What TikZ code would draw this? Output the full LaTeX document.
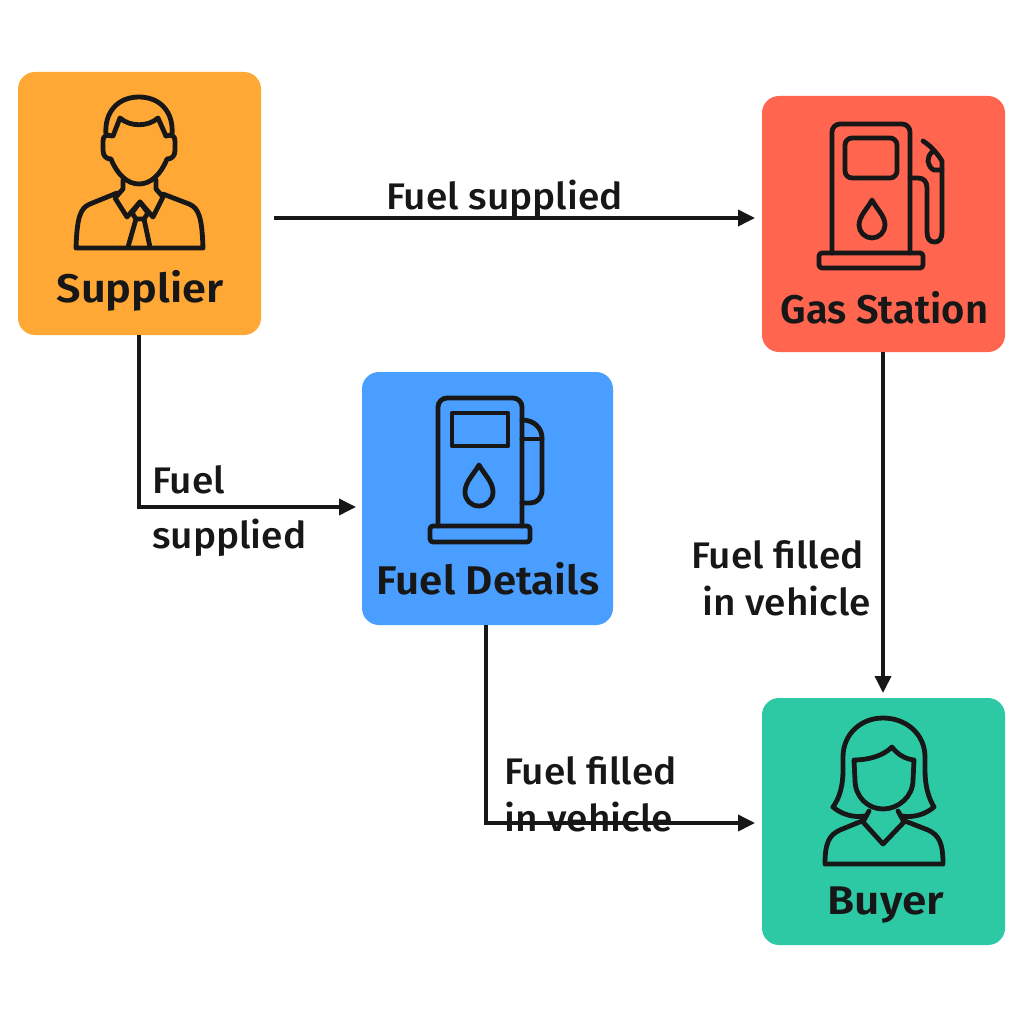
\documentclass[tikz,border=0pt]{standalone}
\usepackage{fontspec}
\usetikzlibrary{arrows.meta}
\newfontfamily\boxfont[UprightFont=* SemiBold,FakeStretch=1.05]{Fira Sans}
\newfontfamily\edgefont[UprightFont=* Medium,FakeStretch=1.05]{Fira Sans}
\definecolor{ink}{HTML}{171717}
\definecolor{cOrange}{HTML}{FFA835}
\definecolor{cRed}{HTML}{FF654F}
\definecolor{cBlue}{HTML}{4A9EFF}
\definecolor{cGreen}{HTML}{2DC9A4}
\tikzset{
  card/.style={rounded corners=17pt,inner sep=0pt,outer sep=0pt},
  icon/.style={draw=ink,line width=4.8pt,line join=round,line cap=round},
  flow/.style={draw=ink,line width=3.6pt,-{Triangle[length=17pt,width=16pt]}},
  cardlabel/.style={text=ink,inner sep=0pt,font=\boxfont\fontsize{40}{42}\selectfont},
  flowlabel/.style={text=ink,inner sep=0pt,anchor=west,font=\edgefont\fontsize{37}{40}\selectfont},
}
\begin{document}
\begin{tikzpicture}[x=1pt,y=-1pt]
\useasboundingbox (0,0) rectangle (1024,1024);
\fill[white] (0,0) rectangle (1024,1024);
% cards
\node[card,fill=cOrange,minimum width=243pt,minimum height=263pt] (sup) at (139.5,203.5) {};
\node[card,fill=cRed,minimum width=243pt,minimum height=256pt] (gas) at (883.5,224) {};
\node[card,fill=cBlue,minimum width=251pt,minimum height=253pt] (det) at (487.5,498.5) {};
\node[card,fill=cGreen,minimum width=243pt,minimum height=247pt] (buy) at (883.5,821.5) {};
% free ends
\coordinate (supOut) at (274,218);
\coordinate (gasIn) at (755,218);
\coordinate (detIn) at (356,507);
\coordinate (buyIn) at (755,823);
\coordinate (supCorner) at (139,507);
\coordinate (detCorner) at (486,823);
\coordinate (supBot) at (139,335);
\coordinate (detBot) at (486,625);
\coordinate (gasBot) at (883,352);
\coordinate (buyTop) at (883,693);
% connectors
\draw[flow] (supOut) -- (gasIn);
\draw[flow] (supBot) -- (supCorner) -- (detIn);
\draw[flow] (gasBot) -- (buyTop);
\draw[flow] (detBot) -- (detCorner) -- (buyIn);
% card labels
\node[cardlabel] (supL) at (140,291) {\scalebox{1.03}[1]{Supplier}};
\node[cardlabel] (gasL) at (884.5,308) {\scalebox{.95}[1]{Gas Station}};
\node[cardlabel] (detL) at (488,579) {Fuel Details};
\node[cardlabel] (buyL) at (886,905) {\scalebox{1.05}[1]{Buyer}};
% flow labels
\node[flowlabel] (l1) at (386,199) {Fuel supplied};
\node[flowlabel] (l2a) at (152,480) {Fuel};
\node[flowlabel] (l2b) at (152,538) {supplied};
\node[flowlabel] (l3a) at (691,555) {Fuel filled};
\node[flowlabel] (l3b) at (702,601) {in vehicle};
\node[flowlabel] (l4a) at (504,771) {Fuel filled};
\node[flowlabel] (l4b) at (504,817) {in vehicle};
% supplier icon
\draw[icon] (106,135) .. controls (104,112) and (118,97) .. (139,97) .. controls (160,97) and (174,112) .. (172,135);
\draw[icon] (113,136) -- (120,118) .. controls (130,127) and (148,127) .. (158,118) -- (166,136);
\draw[icon] (112,136) .. controls (106,134) and (103,136) .. (103,141) -- (103,150) .. controls (103,156) and (106,159) .. (111,159) .. controls (117,174) and (127,184) .. (139,184) .. controls (151,184) and (161,174) .. (167,159) .. controls (172,159) and (175,156) .. (175,150) -- (175,141) .. controls (175,136) and (172,134) .. (166,136);
\draw[icon] (123,180) -- (123,189) -- (115,198) -- (127,217) -- (140,202) -- (153,217) -- (163,197) -- (156,189) -- (156,180);
\draw[icon] (140,202) -- (132,213) -- (136,219) -- (144,219) -- (148,213) -- cycle;
\draw[icon] (136,219) -- (128,247);
\draw[icon] (144,219) -- (150,247);
\draw[icon] (117,193) -- (90,204) .. controls (80,208) and (77,218) .. (76,248) -- (203,248) .. controls (202,218) and (199,208) .. (189,204) -- (163,194);
% gas station icon
\draw[icon,rounded corners=8pt] (832,253) -- (832,124) -- (910,124) -- (910,253);
\draw[icon,rounded corners=7pt] (845,138) rectangle (897,178);
\draw[icon] (872,200) .. controls (868,208) and (859,216) .. (859,225) .. controls (859,232) and (865,238) .. (872,238) .. controls (879,238) and (885,232) .. (885,225) .. controls (885,216) and (876,208) .. (872,200) -- cycle;
\draw[icon,rounded corners=3pt] (819,253) rectangle (923,268);
\draw[icon] (910,178) -- (918,178) .. controls (924,178) and (927,182) .. (927,188) -- (927,232) .. controls (927,239) and (930,242) .. (934.5,242) .. controls (939,242) and (942,239) .. (942,232) -- (942,161) .. controls (937,153) and (931,146) .. (923,141);
\draw[icon] (932,152) .. controls (929,155) and (928,158) .. (928,161) .. controls (929,166) and (931,169) .. (934,170) -- (942,170);
% fuel details icon
\draw[icon,rounded corners=9pt] (438,526) -- (438,398) -- (522,398) -- (522,526);
\draw[icon] (452,413) rectangle (508,446);
\draw[icon] (479,465) .. controls (474,474) and (465,482) .. (465,492) .. controls (465,500) and (471,506) .. (479,506) .. controls (487,506) and (493,500) .. (493,492) .. controls (493,482) and (484,474) .. (479,465) -- cycle;
\draw[icon,rounded corners=3pt] (430,526) rectangle (530,542);
\draw[icon] (522,420) .. controls (534,420) and (542,428) .. (542,438) -- (542,490) .. controls (542,498) and (537,503) .. (530,503) -- (522,503);
\draw[icon] (522,439) -- (542,439);
% buyer icon
\draw[icon] (833,807) .. controls (840,797) and (843,785) .. (843,770) -- (843,757) .. controls (843,734) and (861,718) .. (883,718) .. controls (906,718) and (925,734) .. (925,757) -- (925,770) .. controls (925,785) and (928,797) .. (934,807) .. controls (926,814) and (914,818) .. (902,816);
\draw[icon] (833,807) .. controls (841,814) and (853,818) .. (865,816);
\draw[icon] (854,760) .. controls (868,760) and (883,756) .. (892,747) .. controls (897,754) and (905,759) .. (914,760) -- (913,780) .. controls (913,797) and (898,809) .. (883,809) .. controls (868,809) and (855,797) .. (855,780) -- cycle;
\draw[icon] (869,811) -- (863,822) -- (883,844) -- (904,822) -- (898,811);
\draw[icon] (862,821) -- (840,830) .. controls (829,835) and (825,843) .. (825,864) -- (943,864) .. controls (943,843) and (939,835) .. (928,830) -- (905,821);
\end{tikzpicture}
\end{document}
